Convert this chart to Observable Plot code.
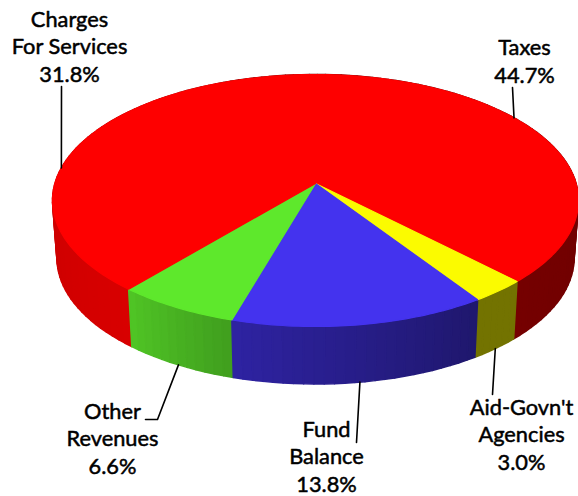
<!DOCTYPE html>
<html>
<head>
<meta charset="utf-8">
<style>html,body{margin:0;padding:0;background:#fff}svg{display:block}</style>
<script src="https://cdn.jsdelivr.net/npm/d3@7"></script>
<script src="https://cdn.jsdelivr.net/npm/@observablehq/plot@0.6"></script>
</head>
<body>
<div id="chart"></div>
<script>
// Data, in clockwise order around the pie
const categories = ["Taxes", "Aid-Govn't\nAgencies", "Fund\nBalance", "Other\nRevenues", "Charges\nFor Services"];
const shares = [44.7, 3.0, 13.8, 6.6, 31.8];
const topColors = ["#fe0000", "#fbfb00", "#4433ee", "#5ee82c", "#fe0000"];
// Label placement: bottom-line baseline position and leader-line bend points
const labelX = [524, 521, 326, 112, 69];
const labelY = [82, 469, 491, 473, 81];
const leaderEnds = [[[512, 87]], [[492, 394]], [[356, 442]], [[157, 419], [145, 419]], [[61, 86]]];

// Pie geometry: a tilted disc under perspective
const W = 578, H = 496;
const cx = 315, cy = 183, a = 260.6, b = 123.7, k = 0.135;
const depth = 57.5, baseScale = 0.983;
const firstAngle = -25.4; // boundary at which the first slice in the list begins, degrees clockwise from the back

function rim(theta, lower = false) {
  const t = theta * Math.PI / 180;
  const u = Math.sin(t), v = -Math.cos(t);
  const w = 1 - k * v;
  const s = lower ? baseScale : 1;
  return {
    x: cx + s * a * u / w,
    y: cy + b * v / w + (lower ? depth : 0),
    v
  };
}

// Side shading as a function of the angle around the rim
const shade = d3.scaleLinear()
  .domain([-25, 90, 135, 147, 196, 220, 270, 335])
  .range([0.42, 0.44, 0.46, 0.46, 0.68, 0.85, 0.80, 0.6]);

const total = d3.sum(shares);
let acc = firstAngle;
const slices = categories.map((name, i) => {
  const start = acc;
  const end = acc + shares[i] / total * 360;
  acc = end;
  return {name, share: shares[i], color: topColors[i], start, end, mid: (start + end) / 2, i};
});

const topRows = [], sideRows = [];
let sideId = 0;
for (const s of slices) {
  const n = Math.ceil((s.end - s.start) / 2);
  topRows.push({id: s.i, x: cx, y: cy, color: s.color});
  for (let j = 0; j <= n * 2; j++) {
    const p = rim(s.start + (s.end - s.start) * j / (n * 2));
    topRows.push({id: s.i, x: p.x, y: p.y, color: s.color});
  }
  for (let j = 0; j < n; j++) {
    const th = s.start + (s.end - s.start) * j / n;
    const th2 = s.start + (s.end - s.start) * (j + 1) / n;
    const p = rim(th), q = rim(th2), ql = rim(th2, true), pl = rim(th, true);
    const mid = (th + th2) / 2;
    const f = shade(((mid + 25) % 360 + 360) % 360 - 25);
    const c = d3.rgb(s.color);
    sideRows.push({id: sideId++, order: (p.v + q.v) / 2, pts: [p, q, ql, pl], color: d3.rgb(c.r * f, c.g * f, c.b * f).formatHex()});
  }
}
sideRows.sort((A, B) => A.order - B.order);
const sidePts = sideRows.flatMap((r, oi) => r.pts.map(p => ({id: oi, x: p.x, y: p.y, color: r.color})));

const labels = slices.map((s, i) => ({
  text: `${s.name}\n${s.share.toFixed(1)}%`,
  x: labelX[i], y: labelY[i]
}));
const leaderRows = slices.flatMap((s, i) => {
  const m = ((s.mid % 360) + 360) % 360;
  const start = rim(s.mid, m > 90 && m < 270);
  return [start, ...leaderEnds[i].map(([x, y]) => ({x, y}))].map(p => ({id: i, x: p.x, y: p.y}));
});

const chart = Plot.plot({
  width: W, height: H, margin: 0,
  style: {background: "#fff", overflow: "visible"},
  x: {domain: [0, W], range: [0, W], axis: null},
  y: {domain: [0, H], range: [0, H], axis: null},
  color: {type: "identity"},
  marks: [
    Plot.line(sidePts, {x: "x", y: "y", z: "id", fill: "color", stroke: "color", strokeWidth: 1.5, strokeLinejoin: "round", curve: "linear-closed"}),
    Plot.line(topRows, {x: "x", y: "y", z: "id", fill: "color", stroke: "color", strokeWidth: 1.2, strokeLinejoin: "round", curve: "linear-closed"}),
    Plot.line(leaderRows, {x: "x", y: "y", z: "id", stroke: "#000", strokeWidth: 1.6, curve: "linear"}),
    Plot.text(labels, {
      x: "x", y: "y", text: "text", textAnchor: "middle", lineAnchor: "bottom",
      fontFamily: "Lato", fontSize: 21.8, lineHeight: 1.24, fill: "#000",
      stroke: "#000", strokeWidth: 0.5
    })
  ]
});
document.getElementById("chart").appendChild(chart);
</script>
</body>
</html>
